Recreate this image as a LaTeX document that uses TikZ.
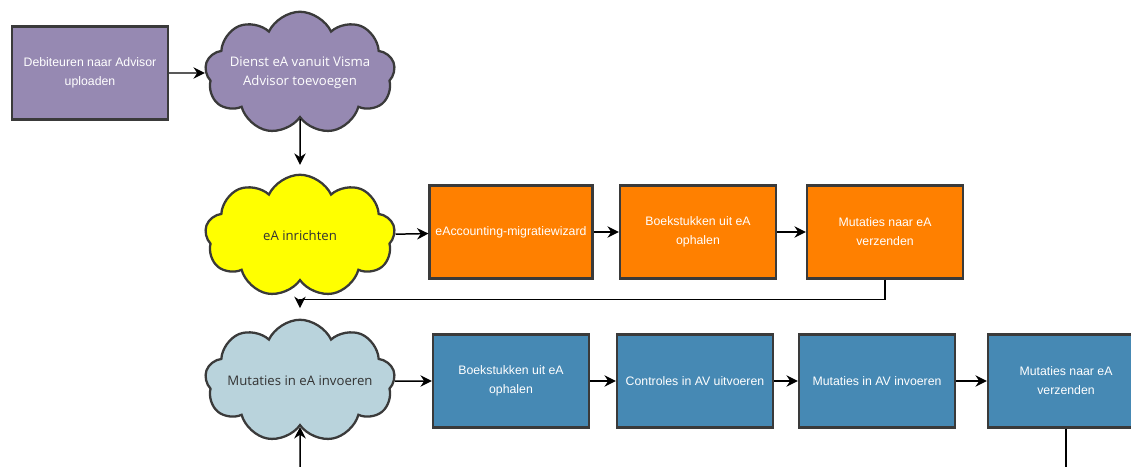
\documentclass[tikz,border=0pt]{standalone}
\usepackage{fontspec}
\setmainfont{Liberation Sans}
\newfontfamily\wolkfont{Open Sans}
\usetikzlibrary{shapes.symbols,arrows.meta}
\definecolor{advpaars}{HTML}{9689B2}
\definecolor{eaoranje}{HTML}{FF8000}
\definecolor{eageel}{HTML}{FFFF00}
\definecolor{avblauw}{HTML}{4689B4}
\definecolor{lichtblauw}{HTML}{B9D3DC}
\definecolor{rand}{HTML}{3A3A3A}
\definecolor{donkertekst}{HTML}{333333}
\begin{document}
\begin{tikzpicture}[x=0.02cm,y=-0.02cm,
  box/.style={draw=rand,line width=1.3pt,minimum width=3.12cm,minimum height=1.86cm,align=center,text=white,font=\fontsize{7}{10.8}\selectfont},
  wolk/.style={cloud,cloud puffs=9,cloud puff arc=130,cloud ignores aspect,draw=rand,line width=1.3pt,minimum width=3.8cm,minimum height=2.45cm,align=center,inner xsep=-12pt,inner ysep=0pt,font=\wolkfont\fontsize{7.5}{11}\selectfont},
  flow/.style={-{Stealth[length=6.5pt,width=6.5pt]},line width=0.85pt}]
\useasboundingbox (0,0) rectangle (1131,466);
\node[box,fill=advpaars] (deb) at (90,73){Debiteuren naar Advisor\\uploaden};
\node[wolk,fill=advpaars,text=white] (dienst) at (300,73){Dienst eA vanuit Visma\\Advisor toevoegen};
\node[wolk,fill=eageel,text=donkertekst] (inricht) at (300,236){eA inrichten};
\node[box,fill=eaoranje] (wizard) at (511,232){eAccounting-migratiewizard};
\node[box,fill=eaoranje] (boekea) at (698,232){Boekstukken uit eA\\ophalen};
\node[box,fill=eaoranje] (mutea) at (885,232){Mutaties naar eA\\verzenden};
\node[wolk,fill=lichtblauw,text=donkertekst] (invoer) at (300,381){Mutaties in eA invoeren};
\node[box,fill=avblauw] (boekav) at (511,381){Boekstukken uit eA\\ophalen};
\node[box,fill=avblauw] (contr) at (695,381){Controles in AV uitvoeren};
\node[box,fill=avblauw] (mutav) at (877,381){Mutaties in AV invoeren};
\node[box,fill=avblauw] (mutnaar) at (1066,381){Mutaties naar eA\\verzenden};
\coordinate (onder) at (300,470);
\draw[flow] (deb) -- (dienst);
\draw[flow,shorten >=5] (dienst.south) -- (inricht.north);
\draw[flow] (inricht) -- (wizard);
\draw[flow] (wizard) -- (boekea);
\draw[flow] (boekea) -- (mutea);
\draw[flow,shorten >=6] (mutea.south) -- ++(0,20) -| (invoer.north);
\draw[flow] (invoer) -- (boekav);
\draw[flow] (boekav) -- (contr);
\draw[flow] (contr) -- (mutav);
\draw[flow] (mutav) -- (mutnaar);
\draw[flow] (onder) -- (invoer.south);
\draw[line width=0.85pt] (mutnaar.south) -- ++(0,45);
\end{tikzpicture}
\end{document}
